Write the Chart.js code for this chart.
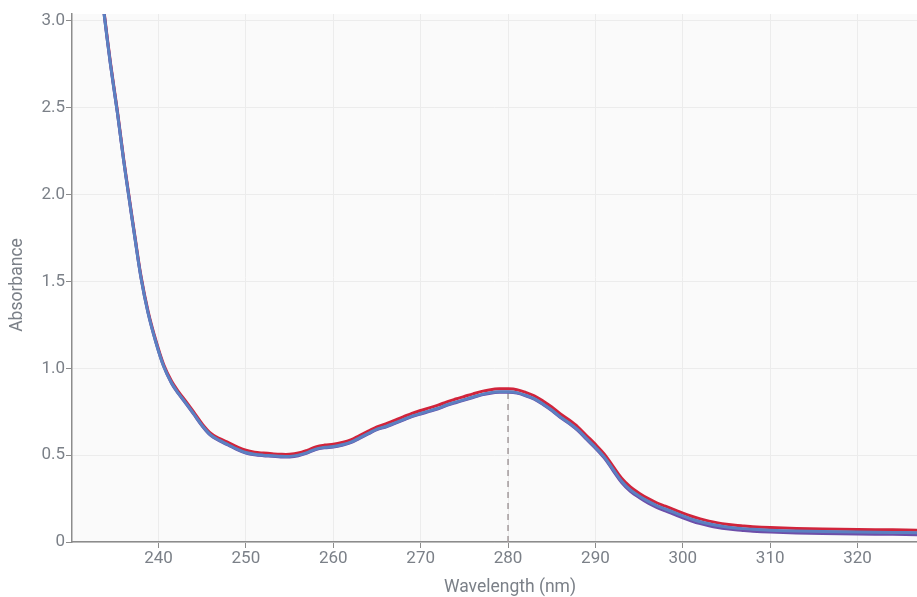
<!DOCTYPE html>
<html>
<head>
<meta charset="utf-8">
<script src="https://cdn.jsdelivr.net/npm/chart.js@4/dist/chart.umd.min.js"></script>
<style>
  html, body { margin: 0; padding: 0; background: #ffffff; }
  #wrap { width: 917px; height: 597px; position: relative; }
</style>
</head>
<body>
<div id="wrap"><canvas id="c" width="917" height="597"></canvas></div>
<script>
// ---- data ----
const wavelengths = [232, 233, 233.8, 234.5, 235.3, 236, 236.6, 237.3, 238, 238.8, 239.7, 240.6, 241.5, 242.3, 243.2, 244, 245, 246, 247, 248, 249, 250, 251, 252, 253, 254, 255, 256, 257, 258, 259, 260, 261, 262, 263, 264, 265, 266, 267, 268, 269, 270, 271, 272, 273, 274, 275, 276, 277, 278, 279, 280, 281, 282, 283, 284, 285, 286, 287, 288, 289, 290, 291, 292, 293, 294, 295, 296, 297, 298, 299, 300, 301, 302, 303, 304, 305, 306, 307, 308, 310, 313, 316, 320, 324, 327];

const absRed = [3.76, 3.37, 3.04, 2.76, 2.48, 2.21, 2.0, 1.76, 1.53, 1.33, 1.16, 1.02, 0.925, 0.865, 0.805, 0.75, 0.68, 0.625, 0.595, 0.572, 0.548, 0.528, 0.517, 0.512, 0.508, 0.505, 0.505, 0.512, 0.528, 0.548, 0.558, 0.563, 0.573, 0.588, 0.613, 0.638, 0.663, 0.68, 0.7, 0.72, 0.741, 0.757, 0.772, 0.788, 0.807, 0.823, 0.838, 0.853, 0.867, 0.877, 0.882, 0.882, 0.877, 0.862, 0.842, 0.812, 0.777, 0.737, 0.702, 0.662, 0.612, 0.562, 0.507, 0.437, 0.367, 0.317, 0.281, 0.251, 0.226, 0.206, 0.186, 0.166, 0.148, 0.133, 0.12, 0.11, 0.102, 0.096, 0.092, 0.088, 0.083, 0.078, 0.075, 0.072, 0.07, 0.068];

const absBlue = [3.75, 3.36, 3.03, 2.75, 2.47, 2.2, 1.99, 1.75, 1.52, 1.32, 1.15, 1.01, 0.915, 0.855, 0.795, 0.74, 0.67, 0.615, 0.585, 0.56, 0.535, 0.515, 0.505, 0.5, 0.497, 0.493, 0.493, 0.5, 0.515, 0.535, 0.545, 0.55, 0.56, 0.575, 0.6, 0.625, 0.65, 0.665, 0.685, 0.705, 0.725, 0.74, 0.755, 0.77, 0.79, 0.805, 0.82, 0.835, 0.85, 0.86, 0.865, 0.865, 0.86, 0.845, 0.825, 0.795, 0.76, 0.72, 0.685, 0.645, 0.595, 0.545, 0.49, 0.42, 0.35, 0.3, 0.265, 0.235, 0.21, 0.19, 0.17, 0.15, 0.132, 0.117, 0.105, 0.095, 0.087, 0.081, 0.077, 0.073, 0.068, 0.063, 0.06, 0.057, 0.055, 0.053];

const absPurple = [3.75, 3.36, 3.03, 2.75, 2.47, 2.2, 1.99, 1.75, 1.52, 1.32, 1.15, 1.01, 0.913, 0.853, 0.793, 0.738, 0.668, 0.612, 0.582, 0.557, 0.532, 0.512, 0.502, 0.497, 0.494, 0.49, 0.49, 0.497, 0.512, 0.532, 0.542, 0.547, 0.557, 0.572, 0.597, 0.622, 0.647, 0.662, 0.682, 0.702, 0.722, 0.737, 0.752, 0.767, 0.787, 0.802, 0.817, 0.832, 0.847, 0.857, 0.862, 0.862, 0.857, 0.842, 0.822, 0.792, 0.757, 0.717, 0.682, 0.641, 0.59, 0.54, 0.484, 0.413, 0.343, 0.292, 0.256, 0.225, 0.2, 0.179, 0.159, 0.139, 0.121, 0.106, 0.094, 0.084, 0.076, 0.07, 0.066, 0.062, 0.057, 0.052, 0.049, 0.046, 0.044, 0.042];

const peakWavelength = [280, 280];
const peakLine = [0, 0.865];

const xTicks = [240, 250, 260, 270, 280, 290, 300, 310, 320];
const yTicks = [0, 0.5, 1.0, 1.5, 2.0, 2.5, 3.0];

const xTitle = 'Wavelength (nm)';
const yTitle = 'Absorbance';

// ---- build chart ----
const pts = (xs, ys) => xs.map((x, i) => ({ x: x, y: ys[i] }));
const FONT = "Roboto, 'Noto Sans', sans-serif";
const TXT = '#7b8088';

const plotBg = {
  id: 'plotBg',
  beforeDraw(chart) {
    const a = chart.chartArea, ctx = chart.ctx;
    ctx.save();
    ctx.fillStyle = '#fafafa';
    ctx.fillRect(a.left, a.top, a.right - a.left, a.bottom - a.top);
    ctx.restore();
  }
};

const axisTitles = {
  id: 'axisTitles',
  afterDraw(chart) {
    const ctx = chart.ctx;
    ctx.save();
    ctx.fillStyle = TXT;
    ctx.font = '17.5px ' + FONT;
    ctx.textAlign = 'center';
    ctx.textBaseline = 'middle';
    ctx.fillText(xTitle, 510, 588);
    ctx.translate(18, 285);
    ctx.rotate(-Math.PI / 2);
    ctx.fillText(yTitle, 0, 0);
    ctx.restore();
  }
};

new Chart(document.getElementById('c'), {
  type: 'line',
  data: {
    datasets: [
      { label: 'Sample B', data: pts(wavelengths, absBlue), borderColor: '#5b80c1', borderWidth: 3, pointRadius: 0, tension: 0.35, order: 0 },
      { label: 'Sample C', data: pts(wavelengths, absPurple), borderColor: '#6d4ea9', borderWidth: 3, pointRadius: 0, tension: 0.35, order: 1 },
      { label: 'Sample A', data: pts(wavelengths, absRed), borderColor: '#d1243b', borderWidth: 3, pointRadius: 0, tension: 0.35, order: 2 },
      { label: 'Peak', data: pts(peakWavelength, peakLine), borderColor: '#a39a9c', borderWidth: 1.5, borderDash: [6, 5], pointRadius: 0, order: 3 }
    ]
  },
  options: {
    responsive: false,
    animation: false,
    devicePixelRatio: 1,
    layout: { padding: { top: 14, right: 0, left: 0, bottom: 0 } },
    plugins: { legend: { display: false }, tooltip: { enabled: false } },
    scales: {
      x: {
        type: 'linear',
        min: 230.1,
        max: 326.8,
        afterBuildTicks: s => { s.ticks = xTicks.map(v => ({ value: v })); },
        afterFit: s => { s.height = 55; },
        grid: { color: '#ececec', lineWidth: 1, tickColor: '#8c8c8c', tickLength: 6, drawOnChartArea: true },
        border: { color: '#8c8c8c', width: 1.5 },
        ticks: { color: TXT, font: { family: FONT, size: 17 }, padding: 1, maxRotation: 0, callback: v => String(v) },
        title: { display: false }
      },
      y: {
        type: 'linear',
        min: 0,
        max: 3.04,
        afterBuildTicks: s => { s.ticks = yTicks.map(v => ({ value: v })); },
        afterFit: s => { s.width = 72; },
        grid: { color: '#ececec', lineWidth: 1, tickColor: '#8c8c8c', tickLength: 6 },
        border: { color: '#8c8c8c', width: 1.5 },
        ticks: { color: TXT, font: { family: FONT, size: 17 }, padding: 1, callback: v => (v === 0 ? '0' : v.toFixed(1)) },
        title: { display: false }
      }
    }
  },
  plugins: [plotBg, axisTitles]
});
</script>
</body>
</html>
